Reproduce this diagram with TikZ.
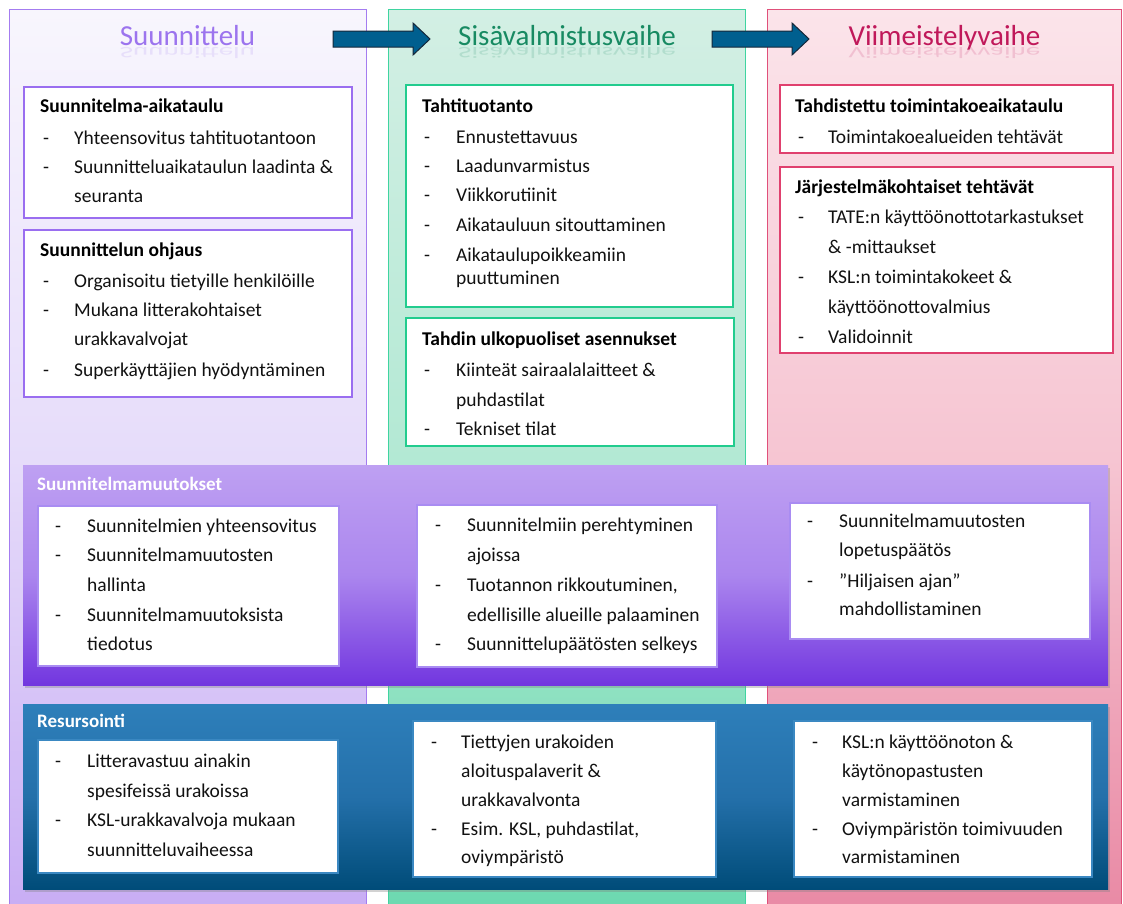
\documentclass[tikz,border=0pt]{standalone}
\usepackage{fontspec}
\setmainfont{Carlito}
\usetikzlibrary{shadows}

\definecolor{Ltop}{HTML}{F8F6FD}
\definecolor{Lmid}{HTML}{E6DCFA}
\definecolor{Lbot}{HTML}{C8ADF4}
\definecolor{Lline}{HTML}{A47CF0}
\definecolor{Lbox}{HTML}{9A6EF0}
\definecolor{Ltit}{HTML}{9C74EE}
\definecolor{Mtop}{HTML}{D3EFE4}
\definecolor{Mmid}{HTML}{B3E9D4}
\definecolor{Mbot}{HTML}{6CD9B0}
\definecolor{Mline}{HTML}{3FD4A0}
\definecolor{Mbox}{HTML}{22CC8E}
\definecolor{Mtit}{HTML}{178A62}
\definecolor{Rtop}{HTML}{FBE4EA}
\definecolor{Rmid}{HTML}{F6C5D2}
\definecolor{Rbot}{HTML}{E98AA5}
\definecolor{Rline}{HTML}{E0507A}
\definecolor{Rbox}{HTML}{E0406E}
\definecolor{Rtit}{HTML}{C0185A}
\definecolor{P1top}{HTML}{BEA0F2}
\definecolor{P1mid}{HTML}{AB86EE}
\definecolor{P1bot}{HTML}{7236DF}
\definecolor{P1box}{HTML}{A98CF2}
\definecolor{B2top}{HTML}{2E7FBA}
\definecolor{B2mid}{HTML}{2470AA}
\definecolor{B2bot}{HTML}{004C79}
\definecolor{B2box}{HTML}{3A88C2}
\definecolor{arrowc}{HTML}{005F8F}
\definecolor{arrowd}{HTML}{16283A}
\definecolor{txtc}{HTML}{111111}

\tikzset{
  txt/.style={inner sep=0pt, font=\fontsize{19.5}{23}\selectfont, text=txtc},
  hd/.style={inner sep=0pt, font=\fontsize{19.5}{23}\selectfont\bfseries, text=black},
  bandtitle/.style={inner sep=0pt, font=\fontsize{19}{22}\selectfont\bfseries, text=white},
  title/.style={inner sep=0pt, font=\fontsize{29}{33}\selectfont},
  reflect/.style={title, yscale=-0.55, transform shape, opacity=0.16, anchor=base},
  colL/.style={draw=Lline, line width=1pt, top color=Ltop, bottom color=Lbot, middle color=Lmid},
  colM/.style={draw=Mline, line width=1pt, top color=Mtop, bottom color=Mbot, middle color=Mmid},
  colR/.style={draw=Rline, line width=1pt, top color=Rtop, bottom color=Rbot, middle color=Rmid},
  lbox/.style={draw=Lbox, line width=2pt, fill=white},
  mbox/.style={draw=Mbox, line width=2pt, fill=white},
  rbox/.style={draw=Rbox, line width=2pt, fill=white},
  band1/.style={top color=P1top, bottom color=P1bot, middle color=P1mid,
    drop shadow={shadow xshift=2pt, shadow yshift=-3pt, opacity=0.35}},
  band2/.style={top color=B2top, bottom color=B2bot, middle color=B2mid,
    drop shadow={shadow xshift=2pt, shadow yshift=-3pt, opacity=0.35}},
  p1box/.style={draw=P1box, line width=1.6pt, fill=white},
  b2box/.style={draw=B2box, line width=1.6pt, fill=white},
  blockarrow/.style={fill=arrowc, draw=arrowd, line width=1pt, line join=miter},
}

\newcommand\itemlines[4]{%
  \foreach \ly/\ld/\lt [count=\li] in {#4}{%
    \ifnum\ld=1 \node[txt,anchor=base west] (#1d\li) at (#2,\ly) {-};\fi
    \node[txt,anchor=base west] (#1t\li) at (#3,\ly) {\lt};
  }}

\begin{document}
\begin{tikzpicture}[x=1pt,y=-1pt]
\useasboundingbox (0,0) rectangle (1123,903);
\fill[white] (0,0) rectangle (1123,903);

% columns
\path[colL] (9.5,9.5) rectangle (366,908);
\path[colM] (388,9.5) rectangle (745,908);
\path[colR] (767,9.5) rectangle (1121,908);

% titles
\node[title, text=Ltit, anchor=base] (tL) at (187.5,45) {Suunnittelu};
\node[title, text=Mtit, anchor=base] (tM) at (567,45) {Sisävalmistusvaihe};
\node[title, text=Rtit, anchor=base] (tR) at (944.5,45) {Viimeistelyvaihe};
\begin{scope}[shift={(187.5,47)}]\node[reflect, text=Ltit] (tLr) at (0,0) {Suunnittelu};\end{scope}
\begin{scope}[shift={(567,47)}]\node[reflect, text=Mtit] (tMr) at (0,0) {Sisävalmistusvaihe};\end{scope}
\begin{scope}[shift={(944.5,47)}]\node[reflect, text=Rtit] (tRr) at (0,0) {Viimeistelyvaihe};\end{scope}

% arrows
\path[blockarrow] (333,31) -- (413,31) -- (413,23) -- (430,39) -- (413,55) -- (413,47) -- (333,47) -- cycle;
\path[blockarrow] (712,31) -- (792,31) -- (792,23) -- (809,39) -- (792,55) -- (792,47) -- (712,47) -- cycle;

% column boxes
\draw[lbox] (24,87) rectangle (352,218);
\draw[lbox] (24,230) rectangle (352,397);
\draw[mbox] (406,85) rectangle (733,307);
\draw[mbox] (406,318) rectangle (734,446);
\draw[rbox] (780,85) rectangle (1113,153);
\draw[rbox] (780,167) rectangle (1113,353);

\node[hd, anchor=base west] (L1h) at (40,112) {Suunnitelma-aikataulu};
\itemlines{L1}{43}{74}{144/1/Yhteensovitus tahtituotantoon, 173/1/Suunnitteluaikataulun laadinta \&, 202/0/seuranta}
\node[hd, anchor=base west] (L2h) at (40,256) {Suunnittelun ohjaus};
\itemlines{L2}{43}{74}{287/1/Organisoitu tietyille henkilöille, 316/1/Mukana litterakohtaiset, 345/0/urakkavalvojat, 376/1/Superkäyttäjien hyödyntäminen}

\node[hd, anchor=base west] (M1h) at (422,112) {Tahtituotanto};
\itemlines{M1}{424}{456}{143/1/Ennustettavuus, 172/1/Laadunvarmistus, 201/1/Viikkorutiinit, 231/1/Aikatauluun sitouttaminen, 261/1/Aikataulupoikkeamiin, 284/0/puuttuminen}
\node[hd, anchor=base west] (M2h) at (422,345) {Tahdin ulkopuoliset asennukset};
\itemlines{M2}{424}{456}{376/1/Kiinteät sairaalalaitteet \&, 406/0/puhdastilat, 435/1/Tekniset tilat}

\node[hd, anchor=base west] (R1h) at (795,112) {Tahdistettu toimintakoeaikataulu};
\itemlines{R1}{798}{828}{143/1/Toimintakoealueiden tehtävät}
\node[hd, anchor=base west] (R2h) at (795,193) {Järjestelmäkohtaiset tehtävät};
\itemlines{R2}{798}{828}{223/1/TATE:n käyttöönottotarkastukset, 253/0/\& -mittaukset, 283/1/KSL:n toimintakokeet \&, 313/0/käyttöönottovalmius, 343/1/Validoinnit}

% band 1
\path[band1] (23,465) rectangle (1108,685);
\node[bandtitle, anchor=base west] (B1h) at (37,490) {Suunnitelmamuutokset};
\draw[p1box] (38,506) rectangle (339,666);
\draw[p1box] (417,505) rectangle (717,667);
\draw[p1box] (790,503) rectangle (1090,639);
\itemlines{PA}{55}{87}{532/1/Suunnitelmien yhteensovitus, 561/1/Suunnitelmamuutosten, 591/0/hallinta, 621/1/Suunnitelmamuutoksista, 650/0/tiedotus}
\itemlines{PB}{435}{467}{531/1/Suunnitelmiin perehtyminen, 561/0/ajoissa, 591/1/{Tuotannon rikkoutuminen,}, 621/0/edellisille alueille palaaminen, 650/1/Suunnittelupäätösten selkeys}
\itemlines{PC}{807}{839}{527/1/Suunnitelmamuutosten, 556/0/lopetuspäätös, 587/1/”Hiljaisen ajan”, 615/0/mahdollistaminen}

% band 2
\path[band2] (23,704) rectangle (1108,889);
\node[bandtitle, anchor=base west] (B2h) at (37,727) {Resursointi};
\draw[b2box] (38,740) rectangle (338,873);
\draw[b2box] (413,721) rectangle (716,877);
\draw[b2box] (794,721) rectangle (1092,877);
\itemlines{QA}{55}{87}{767/1/Litteravastuu ainakin, 797/0/spesifeissä urakoissa, 826/1/KSL-urakkavalvoja mukaan, 856/0/suunnitteluvaiheessa}
\itemlines{QB}{431}{461}{748/1/Tiettyjen urakoiden, 777/0/aloituspalaverit \&, 806/0/urakkavalvonta, 835/1/{Esim. KSL, puhdastilat,}, 863/0/oviympäristö}
\itemlines{QC}{812}{842}{748/1/KSL:n käyttöönoton \&, 777/0/käytönopastusten, 806/0/varmistaminen, 835/1/Oviympäristön toimivuuden, 863/0/varmistaminen}
\end{tikzpicture}
\end{document}
